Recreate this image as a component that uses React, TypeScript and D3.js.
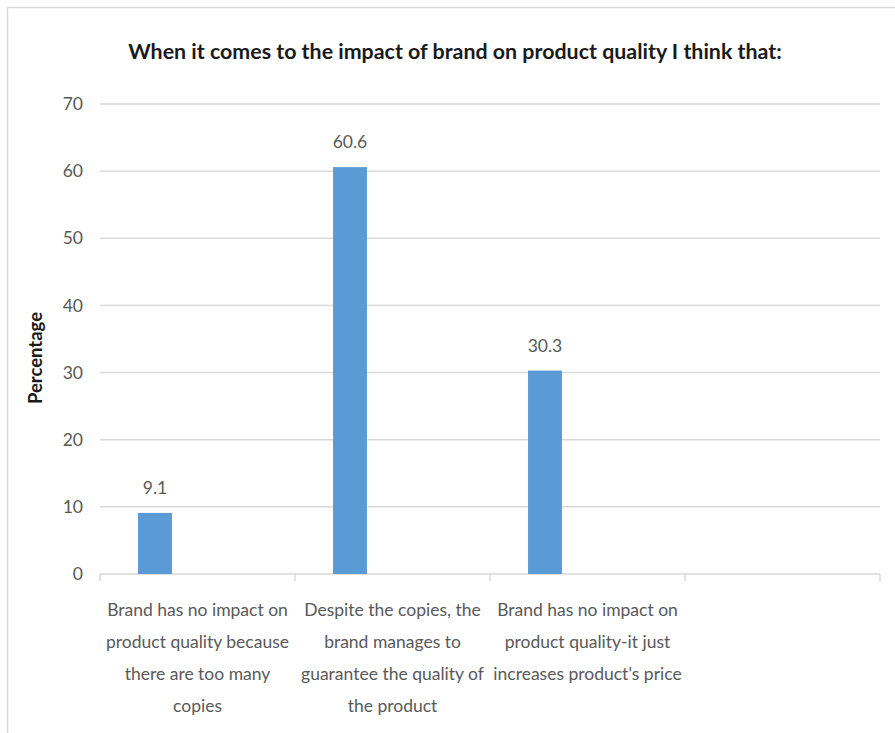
import React from "react";
import * as d3 from "d3";

const categories = [
  ["Brand has no impact on", "product quality because", "there are too many", "copies"],
  ["Despite the copies, the", "brand manages to", "guarantee the quality of", "the product"],
  ["Brand has no impact on", "product quality-it just", "increases product's price"],
  [],
];
const values = [9.1, 60.6, 30.3, null];
const yTicks = [0, 10, 20, 30, 40, 50, 60, 70];
const title = "When it comes to the impact of brand on product quality I think that:";
const yLabel = "Percentage";

const W = 895;
const H = 733;
const FONT = "Lato, 'Open Sans', sans-serif";

export default function App() {
  const x = d3.scaleBand<number>().domain(categories.map((_, i) => i)).range([100, 880]).padding(0);
  const y = d3.scaleLinear().domain([0, 70]).range([574, 104]);
  const bw = x.bandwidth();
  const barW = bw * 0.174;
  const barOff = bw * 0.195;
  const gray = "#595959";
  const grid = "#d9d9d9";
  const fs = 17.5;

  return (
    <svg width={W} height={H} style={{ position: "absolute", left: 0, top: 0 }}>
      <rect x={7.5} y={7.5} width={W} height={H} fill="#fff" stroke={grid} strokeWidth={1.5} />
      <text x={455} y={59} textAnchor="middle" fontFamily={FONT} fontWeight="bold" fontSize={21.4} fill="#1a1a1a">
        {title}
      </text>
      <text
        transform={`translate(42,358) rotate(-90)`}
        textAnchor="middle"
        fontFamily={FONT}
        fontWeight="bold"
        fontSize={18.5}
        fill="#1a1a1a"
      >
        {yLabel}
      </text>
      {yTicks.map((t) => (
        <g key={t}>
          <line x1={100} x2={880} y1={y(t)} y2={y(t)} stroke={grid} strokeWidth={1.5} />
          <text x={83} y={y(t)} dy="0.35em" textAnchor="end" fontFamily={FONT} fontSize={fs} fill={gray}>
            {t}
          </text>
        </g>
      ))}
      {[...x.domain(), categories.length].map((i) => {
        const xx = i < categories.length ? (x(i) as number) : 880;
        return <line key={"tk" + i} x1={xx} x2={xx} y1={574} y2={581} stroke={grid} strokeWidth={1.5} />;
      })}
      {values.map((v, i) =>
        v == null ? null : (
          <g key={"b" + i}>
            <rect x={(x(i) as number) + barOff} y={y(v)} width={barW} height={574 - y(v)} fill="#5b9bd5" />
            <text
              x={(x(i) as number) + barOff + barW / 2}
              y={y(v) - 25}
              dy="0.35em"
              textAnchor="middle"
              fontFamily={FONT}
              fontSize={fs}
              fill={gray}
            >
              {v.toFixed(1)}
            </text>
          </g>
        )
      )}
      {categories.map((lines, i) =>
        lines.map((l, j) => (
          <text
            key={"c" + i + "-" + j}
            x={(x(i) as number) + bw / 2}
            y={610 + j * 32}
            dy="0.35em"
            textAnchor="middle"
            fontFamily={FONT}
            fontSize={fs}
            fill={gray}
          >
            {l}
          </text>
        ))
      )}
    </svg>
  );
}
